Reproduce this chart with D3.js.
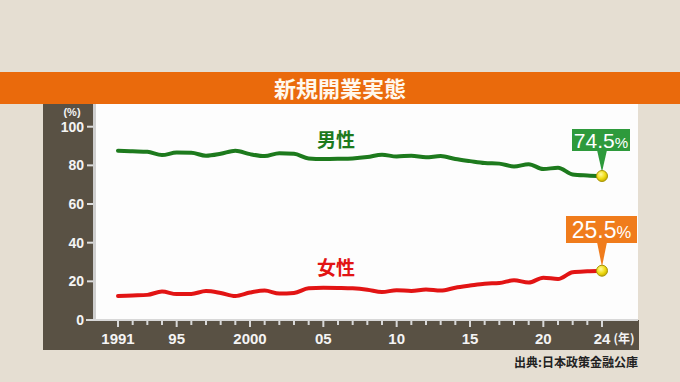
<!DOCTYPE html>
<html>
<head>
<meta charset="utf-8">
<script src="https://cdn.jsdelivr.net/npm/d3@7"></script>
<style>
  html, body { margin: 0; padding: 0; background: #e5ded2; }
  svg { display: block; }
</style>
</head>
<body>
<svg id="chart" width="680" height="382"></svg>
<script>
// ---- data ----
const years = d3.range(1991, 2025);
const male = [87.6, 87.3, 87.0, 85.3, 86.6, 86.5, 85.0, 86.0, 87.6, 85.8,
              84.8, 86.3, 86.0, 83.6, 83.3, 83.4, 83.6, 84.3, 85.5, 84.6,
              85.0, 84.2, 84.8, 83.3, 82.2, 81.2, 80.9, 79.4, 80.6, 78.1,
              78.8, 75.3, 74.8, 74.5];
const female = [12.4, 12.7, 13.0, 14.7, 13.4, 13.5, 15.0, 14.0, 12.4, 14.2,
                15.2, 13.7, 14.0, 16.4, 16.7, 16.6, 16.4, 15.7, 14.5, 15.4,
                15.0, 15.8, 15.2, 16.7, 17.8, 18.8, 19.1, 20.6, 19.4, 21.9,
                21.2, 24.7, 25.2, 25.5];
const yTicks = [0, 20, 40, 60, 80, 100];
const xLabelYears = [1991, 1995, 2000, 2005, 2010, 2015, 2020, 2024];
const xLabels = ["1991", "95", "2000", "05", "10", "15", "20", "24"];
const title = "新規開業実態";
const source = "出典:日本政策金融公庫";
const maleLabel = "男性", femaleLabel = "女性";
const maleEnd = "74.5", femaleEnd = "25.5";

// ---- layout ----
const svg = d3.select("#chart");
const plot = {left: 93, right: 638, top: 104, bottom: 320};
const x = d3.scaleLinear().domain([1991, 2024]).range([118, 602]);
const y = d3.scaleLinear().domain([0, 100]).range([320, 126.7]);
const numFont = "'Liberation Sans', Arial, sans-serif";

svg.append("rect").attr("width", 680).attr("height", 382).attr("fill", "#e5ded2");

// title band
svg.append("rect").attr("x", 0).attr("y", 72).attr("width", 680).attr("height", 32).attr("fill", "#ea6a0c");
svg.append("text").attr("x", 340).attr("y", 97).attr("text-anchor", "middle")
  .attr("font-family", "'Noto Sans CJK JP', sans-serif").attr("font-weight", "bold")
  .attr("font-size", 22).attr("fill", "#fff8ee").text(title);

// dark frame (left column + bottom band)
const dark = "#595144";
svg.append("rect").attr("x", 43).attr("y", 104).attr("width", 50).attr("height", 246).attr("fill", dark);
svg.append("rect").attr("x", 43).attr("y", 320).attr("width", 596).attr("height", 30).attr("fill", dark);

// plot area
svg.append("rect").attr("x", plot.left).attr("y", plot.top)
  .attr("width", plot.right - plot.left).attr("height", plot.bottom - plot.top).attr("fill", "#fdfdfd");
svg.append("rect").attr("x", plot.left).attr("y", plot.top).attr("width", 3)
  .attr("height", plot.bottom - plot.top).attr("fill", "#cfcfcf");

// y axis
const yAxis = svg.append("g");
yTicks.forEach(t => {
  yAxis.append("line").attr("x1", 87).attr("x2", 93).attr("y1", y(t)).attr("y2", y(t))
    .attr("stroke", "#dcdcdc").attr("stroke-width", 2);
  yAxis.append("text").attr("x", 84).attr("y", y(t)).attr("dy", "0.36em").attr("text-anchor", "end")
    .attr("font-family", numFont).attr("font-weight", "bold")
    .attr("font-size", 14).attr("fill", "#f4f4f4").text(t);
});
yAxis.append("text").attr("x", 72).attr("y", 116).attr("text-anchor", "middle")
  .attr("font-family", numFont).attr("font-weight", "bold")
  .attr("font-size", 11).attr("fill", "#f4f4f4").text("(%)");

// x axis
const xAxis = svg.append("g");
xAxis.append("line").attr("x1", 86).attr("x2", plot.right).attr("y1", 320).attr("y2", 320)
  .attr("stroke", "#d8d8d8").attr("stroke-width", 2);
years.forEach(yr => {
  const major = xLabelYears.includes(yr);
  xAxis.append("line").attr("x1", x(yr)).attr("x2", x(yr)).attr("y1", 320).attr("y2", major ? 327 : 325)
    .attr("stroke", "#d8d8d8").attr("stroke-width", 2);
});
xLabelYears.forEach((yr, i) => {
  xAxis.append("text").attr("x", x(yr)).attr("y", 344).attr("text-anchor", "middle")
    .attr("font-family", numFont).attr("font-weight", "bold")
    .attr("font-size", 15).attr("fill", "#f4f4f4").text(xLabels[i]);
});
xAxis.append("text").attr("x", 624).attr("y", 343).attr("text-anchor", "middle")
  .attr("font-family", "'Noto Sans CJK JP', sans-serif").attr("font-weight", "bold")
  .attr("font-size", 12).attr("fill", "#f4f4f4").text("(年)");

// source
svg.append("text").attr("x", 638).attr("y", 367).attr("text-anchor", "end")
  .attr("font-family", "'Noto Sans CJK JP', sans-serif").attr("font-weight", "bold")
  .attr("font-size", 12).attr("fill", "#222").text(source);

// lines
const line = d3.line().x((d, i) => x(years[i])).y(d => y(d)).curve(d3.curveMonotoneX);
svg.append("path").datum(male).attr("d", line).attr("fill", "none")
  .attr("stroke", "#1d7a1d").attr("stroke-width", 4).attr("stroke-linejoin", "round").attr("stroke-linecap", "round");
svg.append("path").datum(female).attr("d", line).attr("fill", "none")
  .attr("stroke", "#e21414").attr("stroke-width", 4).attr("stroke-linejoin", "round").attr("stroke-linecap", "round");

// series labels
svg.append("text").attr("x", 336).attr("y", 147).attr("text-anchor", "middle")
  .attr("font-family", "'Noto Sans CJK JP', sans-serif").attr("font-weight", "bold")
  .attr("font-size", 19).attr("fill", "#1d7a1d").text(maleLabel);
svg.append("text").attr("x", 336).attr("y", 275).attr("text-anchor", "middle")
  .attr("font-family", "'Noto Sans CJK JP', sans-serif").attr("font-weight", "bold")
  .attr("font-size", 19).attr("fill", "#e21414").text(femaleLabel);

// callouts
const defs = svg.append("defs");
const grad = defs.append("radialGradient").attr("id", "dotg").attr("cx", "40%").attr("cy", "35%").attr("r", "65%");
grad.append("stop").attr("offset", "0%").attr("stop-color", "#fffaa0");
grad.append("stop").attr("offset", "60%").attr("stop-color", "#f0dc14");
grad.append("stop").attr("offset", "100%").attr("stop-color", "#c8b000");

function callout(val, label, color, box) {
  const cx = x(2024), cy = y(val);
  svg.append("path")
    .attr("d", `M${cx - 5},${box.y + box.h - 1} L${cx + 5},${box.y + box.h - 1} L${cx},${cy - 4} Z`)
    .attr("fill", color);
  svg.append("rect").attr("x", box.x).attr("y", box.y).attr("width", box.w).attr("height", box.h).attr("fill", color);
  const t = svg.append("text").attr("x", box.x + box.w / 2).attr("y", box.y + box.h - box.pad)
    .attr("text-anchor", "middle").attr("font-family", "'Liberation Sans', Arial, sans-serif")
    .attr("fill", "#fff");
  t.append("tspan").attr("font-size", box.fs).text(label);
  t.append("tspan").attr("font-size", box.fs * 0.72).text("%");
  svg.append("circle").attr("cx", cx).attr("cy", cy).attr("r", 5.5)
    .attr("fill", "url(#dotg)").attr("stroke", "#a89608").attr("stroke-width", 1);
}
callout(male[male.length - 1], maleEnd, "#2e9a3c", {x: 572, y: 129, w: 58, h: 22, fs: 21, pad: 3});
callout(female[female.length - 1], femaleEnd, "#f07c1c", {x: 566, y: 216, w: 71, h: 27, fs: 23, pad: 5});
</script>
</body>
</html>
